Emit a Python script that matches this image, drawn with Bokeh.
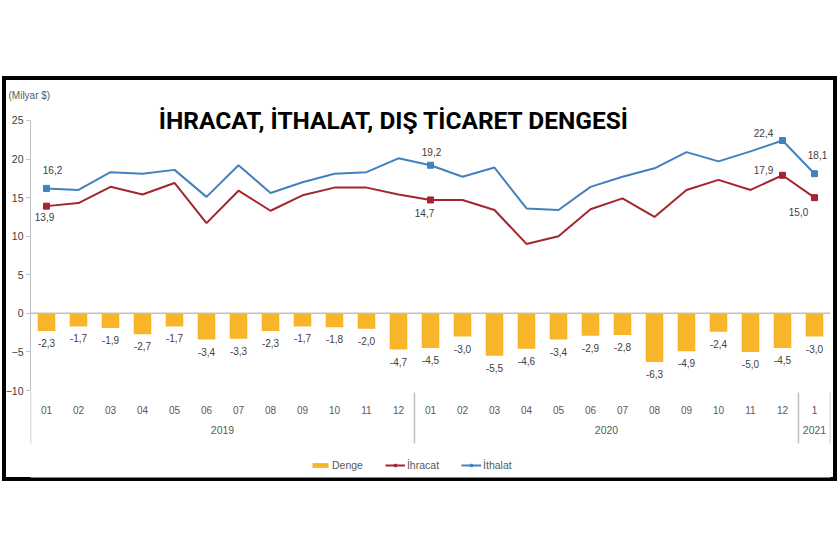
from bokeh.plotting import figure
from bokeh.models import (FactorRange, Range1d, ColumnDataSource, FixedTicker, Span,
                          Label, Legend, LegendItem)
from bokeh.embed import file_html
from bokeh.resources import INLINE

# ---------------- data ----------------
years = ["2019"] * 12 + ["2020"] * 12 + ["2021"]
months = ["01", "02", "03", "04", "05", "06", "07", "08", "09", "10", "11", "12",
          "01", "02", "03", "04", "05", "06", "07", "08", "09", "10", "11", "12",
          "1"]
denge = [-2.3, -1.7, -1.9, -2.7, -1.7, -3.4, -3.3, -2.3, -1.7, -1.8, -2.0, -4.7,
         -4.5, -3.0, -5.5, -4.6, -3.4, -2.9, -2.8, -6.3, -4.9, -2.4, -5.0, -4.5,
         -3.0]
ihracat = [13.9, 14.3, 16.4, 15.4, 16.9, 11.7, 15.9, 13.3, 15.3, 16.3, 16.3, 15.4,
           14.7, 14.7, 13.4, 9.0, 10.0, 13.5, 14.9, 12.5, 16.0, 17.3, 16.0, 17.9,
           15.0]
ithalat = [16.2, 16.0, 18.3, 18.1, 18.6, 15.1, 19.2, 15.6, 17.0, 18.1, 18.3, 20.1,
           19.2, 17.7, 18.9, 13.6, 13.4, 16.4, 17.7, 18.8, 20.9, 19.7, 21.0, 22.4,
           18.1]
y_ticks = [-10, -5, 0, 5, 10, 15, 20, 25]
labeled_idx = [0, 12, 23, 24]
title_text = "İHRACAT, İTHALAT, DIŞ TİCARET DENGESİ"
unit_text = "(Milyar $)"

# label offsets (style, px) for the labelled points
blue_dx = [6, 1, -19, 3]
blue_dy = [-18, -13, -8, -19]
red_dx = [-2, -6, -19, -16]
red_dy = [11, 13, -5, 14]

BAR = "#F8B52A"
RED = "#A3262E"
BLUE = "#4281BE"
GRAY_TXT = "#595959"
DARK_TXT = "#404040"
AXIS_GRAY = "#BFBFBF"
FONT = "Liberation Sans"

PX_PER_UNIT = 7.7143  # 270 px for the -10..25 axis


def tr(v):
    return f"{v:.1f}".replace(".", ",")


factors = list(zip(years, months))
src = ColumnDataSource(dict(x=factors, denge=denge, ihracat=ihracat, ithalat=ithalat,
                            dlbl=[tr(v) for v in denge]))
lab_src = ColumnDataSource(dict(
    x=[factors[i] for i in labeled_idx],
    ihr=[ihracat[i] for i in labeled_idx],
    ith=[ithalat[i] for i in labeled_idx],
    ihr_t=[tr(ihracat[i]) for i in labeled_idx],
    ith_t=[tr(ithalat[i]) for i in labeled_idx],
    bdx=blue_dx, bdy=blue_dy, rdx=red_dx, rdy=red_dy,
))

xr = FactorRange(factors=factors, factor_padding=0, group_padding=0,
                 subgroup_padding=0, range_padding=0)

# frame 800 x 377 px: 20 px above the 25 line, 87 px below the -10 line
p = figure(frame_width=800, frame_height=377, x_range=xr,
           y_range=Range1d(-10 - 87 / PX_PER_UNIT, 25 + 20 / PX_PER_UNIT),
           output_backend="svg", toolbar_location=None,
           min_border_left=28, min_border_right=7, min_border_top=24,
           min_border_bottom=4,
           styles={"position": "absolute", "left": "2px", "top": "76px",
                   "box-shadow": "inset 0 0 0 4px black"})
p.outline_line_color = None
p.background_fill_color = "white"
p.border_fill_alpha = 0
p.xgrid.visible = False
p.ygrid.visible = False

# unit text as the figure title
p.title.text = unit_text
p.title.align = "left"
p.title.offset = -22
p.title.standoff = 0
p.title.text_font = FONT
p.title.text_font_size = "10px"
p.title.text_font_style = "normal"
p.title.text_color = GRAY_TXT

# zero line
p.add_layout(Span(location=0, dimension="width", line_color=AXIS_GRAY, line_width=1.5))

# group separators of the category axis (at group boundaries and both ends)
bounds_idx = [0] + [i for i in range(1, len(years)) if years[i] != years[i - 1]] + [len(years)]
sep_top = -10 - 2 / PX_PER_UNIT
sep_bot = -10 - 53 / PX_PER_UNIT
p.segment(x0=bounds_idx, x1=bounds_idx, y0=[sep_top] * len(bounds_idx),
          y1=[sep_bot] * len(bounds_idx), line_color=AXIS_GRAY, line_width=1.5)

bars = p.vbar(x="x", top="denge", bottom=0, width=0.55, fill_color=BAR,
              line_color=None, source=src)
red_line = p.line(x="x", y="ihracat", line_color=RED, line_width=2, source=src)
blue_line = p.line(x="x", y="ithalat", line_color=BLUE, line_width=2, source=src)
red_pts = p.scatter(x="x", y="ihr", marker="square", size=6, fill_color=RED,
                    line_color=RED, source=lab_src)
blue_pts = p.scatter(x="x", y="ith", marker="square", size=6, fill_color=BLUE,
                     line_color=BLUE, source=lab_src)

p.text(x="x", y="denge", text="dlbl", source=src, text_align="center",
       text_baseline="middle", y_offset=12, text_font_size="10px",
       text_color=DARK_TXT, text_font={"value": FONT})
p.text(x="x", y="ith", text="ith_t", source=lab_src, text_align="center",
       text_baseline="middle", x_offset="bdx", y_offset="bdy", text_font_size="10px",
       text_color=DARK_TXT, text_font={"value": FONT})
p.text(x="x", y="ihr", text="ihr_t", source=lab_src, text_align="center",
       text_baseline="middle", x_offset="rdx", y_offset="rdy", text_font_size="10px",
       text_color=DARK_TXT, text_font={"value": FONT})

# y axis
ya = p.yaxis[0]
ya.ticker = FixedTicker(ticks=y_ticks)
ya.bounds = (-10, 25)
ya.axis_line_color = AXIS_GRAY
ya.major_tick_line_color = AXIS_GRAY
ya.major_tick_out = 4
ya.major_tick_in = 0
ya.minor_tick_line_color = None
ya.major_label_standoff = 3
ya.major_label_text_font_size = "10.5px"
ya.major_label_text_color = DARK_TXT
ya.major_label_text_font = FONT

# x axis, drawn at the -10 level inside the frame
xa = p.xaxis[0]
xa.fixed_location = -10
xa.axis_line_color = None
xa.major_tick_line_color = None
xa.minor_tick_line_color = None
xa.major_label_standoff = 9
xa.major_label_text_font_size = "10px"
xa.major_label_text_color = GRAY_TXT
xa.major_label_text_font = FONT
xa.group_text_font_size = "10.5px"
xa.group_text_font_style = "normal"
xa.group_text_color = GRAY_TXT
xa.group_text_font = FONT
xa.separator_line_color = None

# main title inside the chart area
p.add_layout(Label(x=11.36, y=25, text=title_text, text_align="center",
                   text_baseline="middle", text_font="Roboto",
                   text_font_style="bold", text_font_size="24.5px", text_color="black"))

legend = Legend(items=[LegendItem(label="Denge", renderers=[bars]),
                       LegendItem(label="İhracat", renderers=[red_line, red_pts]),
                       LegendItem(label="İthalat", renderers=[blue_line, blue_pts])],
                orientation="horizontal", location=(280, 6), glyph_width=20,
                glyph_height=6, label_height=12, label_standoff=2, spacing=22,
                border_line_color=None, background_fill_alpha=0, margin=0, padding=4,
                label_text_font_size="10.5px", label_text_color=GRAY_TXT,
                label_text_font=FONT)
p.add_layout(legend, "center")

open("out.html", "w").write(file_html(p, INLINE))
